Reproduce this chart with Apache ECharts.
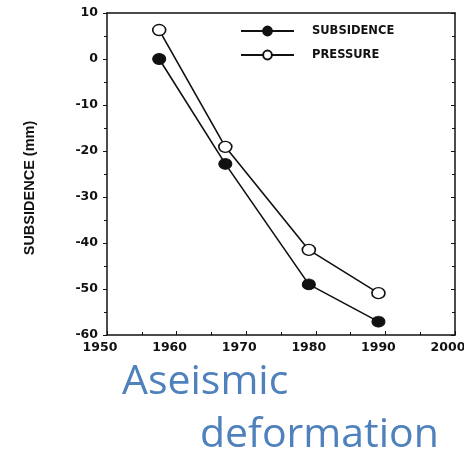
<!DOCTYPE html>
<html><head><meta charset="utf-8">
<script src="https://cdn.jsdelivr.net/npm/echarts@6/dist/echarts.min.js"></script>
<style>html,body{margin:0;padding:0;background:#fff}#c{width:464px;height:459px}</style>
</head><body><div id="c"></div>
<script>
const years = [1957.5, 1967, 1979, 1989];
const subsidence = [0, -22.8, -49, -57.1];
const pressure = [6.3, -19.1, -41.5, -50.9];
const yTitle = 'SUBSIDENCE (mm)';
const captionLine1 = 'Aseismic';
const captionLine2 = 'deformation';

const chart = echarts.init(document.getElementById('c'), null, {renderer: 'canvas'});
const wide = '"DejaVu Sans", sans-serif';
const narrow = '"Liberation Sans", Arial, sans-serif';
const lbl = {color: '#111', fontFamily: wide, fontWeight: 'bold', fontSize: 12.5};
const line = {onZero: false, lineStyle: {color: '#111', width: 1.5}};
const tick = {color: '#111', width: 1};
chart.setOption({
  animation: false,
  grid: {left: 107, right: 9, top: 13, bottom: 124, outerBoundsMode: 'none', containLabel: false},
  legend: {
    left: 235, top: 20, orient: 'vertical', itemWidth: 53, itemHeight: 11, itemGap: 12,
    textStyle: {color: '#111', fontFamily: wide, fontWeight: 'bold', fontSize: 11.5, padding: [0,0,0,13]},
    data: ['SUBSIDENCE', 'PRESSURE']
  },
  xAxis: [{
    type: 'value', min: 1950, max: 2000, interval: 10,
    axisLine: line,
    axisTick: {inside: true, length: 4, lineStyle: tick},
    minorTick: {show: true, splitNumber: 2, length: 3, lineStyle: tick},
    splitLine: {show: false},
    axisLabel: Object.assign({margin: 6, padding: [0, 14, 0, 0], formatter: v => String(v)}, lbl)
  }, {
    type: 'value', position: 'top', min: 1950, max: 2000, interval: 10,
    axisLine: line, axisTick: {show: false}, axisLabel: {show: false}, splitLine: {show: false}
  }],
  yAxis: [{
    type: 'value', min: -60, max: 10, interval: 10,
    axisLine: line,
    axisTick: {length: 4, lineStyle: tick},
    minorTick: {show: true, splitNumber: 2, length: 3, lineStyle: tick},
    splitLine: {show: false},
    axisLabel: Object.assign({margin: 9}, lbl),
    name: yTitle, nameLocation: 'middle', nameRotate: 90, nameGap: 70,
    nameTextStyle: {color: '#111', fontFamily: narrow, fontWeight: 'bold', fontSize: 14.5, padding: [0, 28, 0, 0]}
  }, {
    type: 'value', position: 'right', min: -60, max: 10, interval: 10,
    axisLine: line,
    axisTick: {inside: true, length: 4, lineStyle: tick},
    minorTick: {show: true, splitNumber: 2, length: 3, lineStyle: tick},
    splitLine: {show: false}, axisLabel: {show: false}
  }],
  series: [{
    name: 'SUBSIDENCE', type: 'line', data: years.map((y, i) => [y, subsidence[i]]),
    symbol: 'circle', symbolSize: [13, 11],
    lineStyle: {color: '#111', width: 1.6},
    itemStyle: {color: '#111', borderColor: '#111', borderWidth: 1}
  }, {
    name: 'PRESSURE', type: 'line', data: years.map((y, i) => [y, pressure[i]]),
    symbol: 'circle', symbolSize: [13, 11],
    lineStyle: {color: '#111', width: 1.6},
    itemStyle: {color: '#fff', borderColor: '#111', borderWidth: 1.5}
  }],
  graphic: [
    {type: 'text', left: 122, top: 362, style: {text: captionLine1, fill: '#4F81BD', font: '41px "Open Sans", sans-serif'}},
    {type: 'text', left: 200, top: 415, style: {text: captionLine2, fill: '#4F81BD', font: '41px "Open Sans", sans-serif'}}
  ]
});
</script></body></html>
